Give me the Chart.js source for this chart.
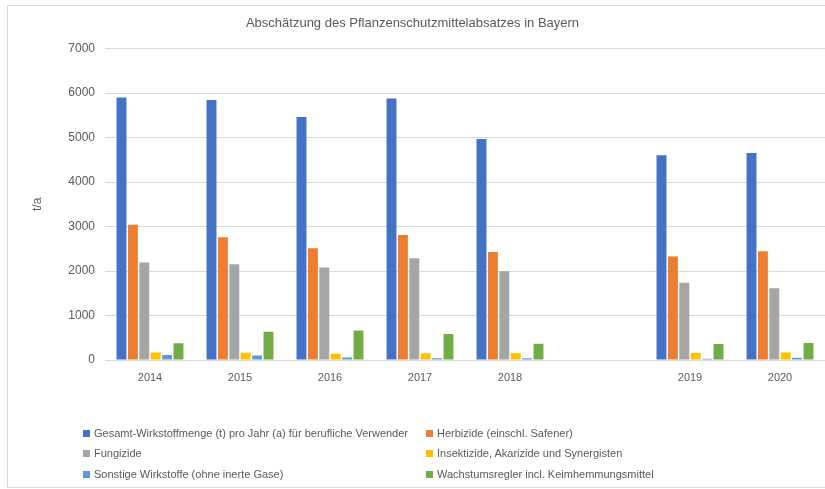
<!DOCTYPE html>
<html>
<head>
<meta charset="utf-8">
<script src="https://cdn.jsdelivr.net/npm/chart.js@4.4.1/dist/chart.umd.min.js"></script>
<style>
    body { margin: 0; background: #fff; font-family: "Liberation Sans", Arial, sans-serif; }
    #wrap { position: relative; width: 825px; height: 489px; overflow: hidden; }
    #rahmen { position: absolute; left: 7px; top: 5px; width: 830px; height: 481px;
        border-left: 1px solid #d9d9d9; border-top: 1px solid #d9d9d9; border-bottom: 1px solid #d9d9d9; }
    #chartBox { position: absolute; left: 0; top: 0; width: 825px; height: 400px; }
    #legende { position: absolute; left: 0; top: 0; width: 825px; height: 489px; pointer-events: none; }
    .eintrag { position: absolute; font-size: 11px; color: #595959; white-space: nowrap; line-height: 14px; }
    .eintrag span { display: inline-block; width: 7px; height: 7px; margin-right: 4px; vertical-align: 0px; }
</style>
</head>
<body>
<div id="wrap">
    <div id="rahmen"></div>
    <div id="chartBox"><canvas id="pflanzenschutzChart" width="825" height="400"></canvas></div>
    <div id="legende"></div>
</div>
<script>
// Jahre (leere Kategorie zwischen 2018 und 2019 wie im Original)
const jahre = ['2014', '2015', '2016', '2017', '2018', '', '2019', '2020'];

// Werte in t/a
const gesamt       = [5900, 5845, 5465, 5880, 4970, null, 4605, 4655];
const herbizide    = [3040, 2760, 2510, 2810, 2430, null, 2325, 2445];
const fungizide    = [2190, 2150, 2080, 2290, 1995, null, 1735, 1615];
const insektizide  = [170, 165, 140, 150, 150, null, 155, 170];
const sonstige     = [110, 100, 55, 40, 40, null, 30, 50];
const wachstum     = [375, 635, 665, 585, 365, null, 360, 380];

const serienNamen = [
    'Gesamt-Wirkstoffmenge (t) pro Jahr (a) für berufliche Verwender',
    'Herbizide (einschl. Safener)',
    'Fungizide',
    'Insektizide, Akarizide und Synergisten',
    'Sonstige Wirkstoffe (ohne inerte Gase)',
    'Wachstumsregler incl. Keimhemmungsmittel'
];
const farben = ['#4472C4', '#ED7D31', '#A5A5A5', '#FFC000', '#5B9BD5', '#70AD47'];
const werte = [gesamt, herbizide, fungizide, insektizide, sonstige, wachstum];

const textFarbe = '#595959';
const schrift = '"Liberation Sans", Arial, sans-serif';

const ctx = document.getElementById('pflanzenschutzChart').getContext('2d');
new Chart(ctx, {
    type: 'bar',
    data: {
        labels: jahre,
        datasets: werte.map((w, i) => ({
            label: serienNamen[i],
            data: w,
            backgroundColor: farben[i],
            categoryPercentage: 0.76,
            barPercentage: 0.87
        }))
    },
    options: {
        responsive: false,
        animation: false,
        layout: { padding: { left: 0, right: 0, top: 0, bottom: 0 } },
        plugins: {
            legend: { display: false },
            tooltip: { enabled: false },
            title: {
                display: true,
                text: 'Abschätzung des Pflanzenschutzmittelabsatzes in Bayern',
                color: textFarbe,
                font: { family: schrift, size: 13, weight: 'normal' },
                padding: { top: 16, bottom: 17 }
            }
        },
        scales: {
            x: {
                grid: { display: false },
                border: { display: false },
                ticks: { color: textFarbe, font: { family: schrift, size: 11 }, padding: 3, maxRotation: 0 },
                afterFit: (scale) => { scale.height = 40; }
            },
            y: {
                min: 0,
                max: 7000,
                ticks: {
                    stepSize: 1000,
                    color: textFarbe,
                    font: { family: schrift, size: 12 },
                    padding: 10,
                    callback: (v) => String(v)
                },
                grid: { color: '#d9d9d9', lineWidth: 1, drawTicks: false },
                border: { display: false },
                title: {
                    display: true,
                    text: 't/a',
                    color: textFarbe,
                    font: { family: schrift, size: 12 },
                    padding: { top: 30, bottom: 0 }
                },
                afterFit: (scale) => { scale.width = 105; }
            }
        }
    }
});

// Legende in zwei Spalten wie im Original
const legende = document.getElementById('legende');
const spaltenX = [83, 426];
const zeilenY = [426, 446, 467];
serienNamen.forEach((name, i) => {
    const el = document.createElement('div');
    el.className = 'eintrag';
    el.style.left = spaltenX[i % 2] + 'px';
    el.style.top = zeilenY[Math.floor(i / 2)] + 'px';
    el.innerHTML = '<span style="background:' + farben[i] + '"></span>' + name;
    legende.appendChild(el);
});
</script>
</body>
</html>
